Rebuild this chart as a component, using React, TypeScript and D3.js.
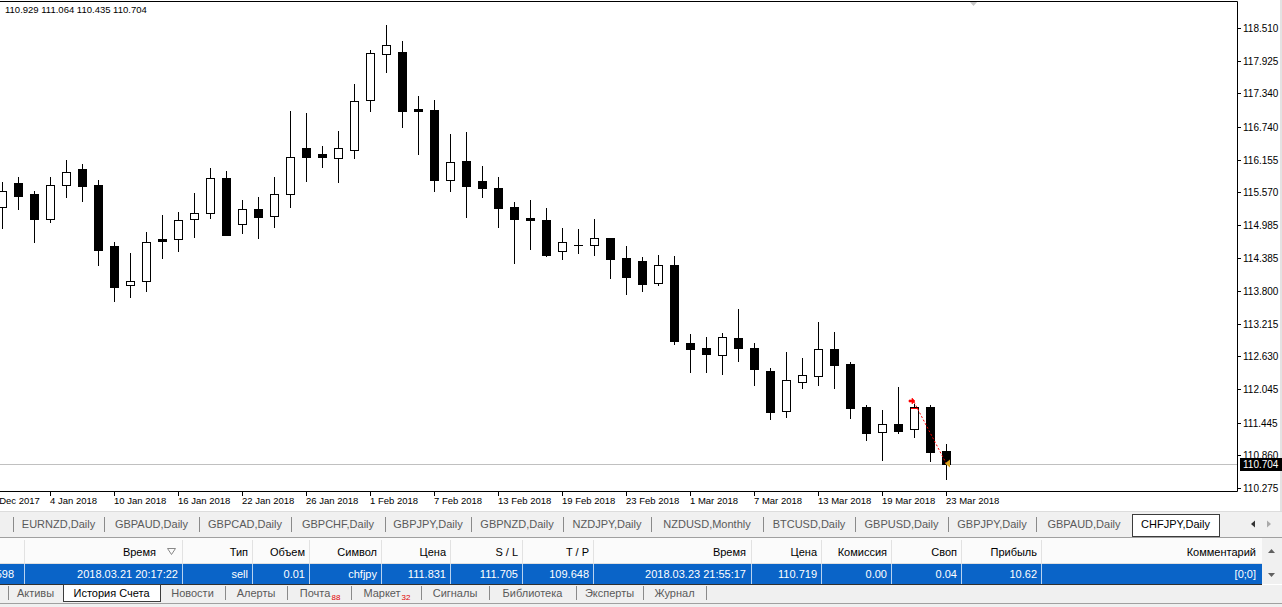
import React, { useEffect, useRef } from 'react';
import * as d3 from 'd3';

const width = 1282;
const height = 607;
const plot = { left: 0, right: 1237, top: 1, bottom: 491 };
const font = 'Liberation Sans, Arial, sans-serif';

// CHFJPY daily bars, 29 Dec 2017 .. 23 Mar 2018
const dates = [
  '2017.12.29', '2018.01.02', '2018.01.03', '2018.01.04', '2018.01.05', '2018.01.08', '2018.01.09', '2018.01.10',
  '2018.01.11', '2018.01.12', '2018.01.15', '2018.01.16', '2018.01.17', '2018.01.18', '2018.01.19', '2018.01.22',
  '2018.01.23', '2018.01.24', '2018.01.25', '2018.01.26', '2018.01.29', '2018.01.30', '2018.01.31', '2018.02.01',
  '2018.02.02', '2018.02.05', '2018.02.06', '2018.02.07', '2018.02.08', '2018.02.09', '2018.02.12', '2018.02.13',
  '2018.02.14', '2018.02.15', '2018.02.16', '2018.02.19', '2018.02.20', '2018.02.21', '2018.02.22', '2018.02.23',
  '2018.02.26', '2018.02.27', '2018.02.28', '2018.03.01', '2018.03.02', '2018.03.05', '2018.03.06', '2018.03.07',
  '2018.03.08', '2018.03.09', '2018.03.12', '2018.03.13', '2018.03.14', '2018.03.15', '2018.03.16', '2018.03.19',
  '2018.03.20', '2018.03.21', '2018.03.22', '2018.03.23',
];

const open = [
  115.300, 115.735, 115.538, 115.096, 115.694, 115.986, 115.700, 114.602, 113.904, 113.976,
  114.727, 114.727, 115.085, 115.193, 115.820, 114.996, 115.265, 115.140, 115.533, 116.362,
  116.255, 116.178, 116.320, 117.216, 118.040, 118.080, 117.055, 117.037, 115.784, 116.130,
  115.770, 115.646, 115.306, 115.105, 115.073, 114.513, 114.620, 114.620, 114.750, 114.393,
  114.340, 113.940, 114.268, 112.870, 112.780, 112.660, 112.960, 112.780, 112.370, 111.650,
  112.170, 112.280, 112.760, 112.495, 111.720, 111.270, 111.420, 111.330, 111.720, 110.929,
];
const high = [
  115.753, 115.840, 115.587, 115.840, 116.147, 116.076, 115.789, 114.674, 114.483, 114.858,
  115.163, 115.216, 115.562, 116.004, 115.950, 115.430, 115.479, 115.837, 117.020, 116.990,
  116.400, 116.666, 117.510, 118.116, 118.560, 118.280, 117.290, 117.220, 116.610, 116.650,
  116.040, 115.840, 115.395, 115.430, 115.288, 114.930, 114.912, 115.090, 114.750, 114.610,
  114.405, 114.447, 114.430, 113.030, 112.980, 113.050, 113.480, 112.870, 112.420, 112.710,
  112.600, 113.250, 113.070, 112.530, 111.760, 111.670, 112.090, 111.780, 111.760, 111.064,
];
const low = [
  114.935, 115.275, 114.685, 115.043, 115.490, 115.420, 114.267, 113.629, 113.700, 113.807,
  114.400, 114.524, 114.774, 115.114, 114.800, 114.846, 114.756, 114.953, 115.310, 115.777,
  116.016, 115.759, 116.190, 117.030, 117.730, 116.740, 116.260, 115.600, 115.600, 115.130,
  115.490, 114.953, 114.310, 114.560, 114.435, 114.380, 114.488, 114.450, 114.040, 113.754,
  113.800, 113.910, 112.853, 112.350, 112.350, 112.320, 112.550, 112.120, 111.510, 111.550,
  112.070, 112.120, 112.070, 111.530, 111.135, 110.780, 111.255, 111.190, 110.765, 110.435,
];
const close = [
  115.587, 115.508, 115.096, 115.694, 115.927, 115.687, 114.541, 113.868, 113.976, 114.674,
  114.703, 115.068, 115.193, 115.820, 114.810, 115.265, 115.132, 115.533, 116.195, 116.206,
  116.195, 116.357, 117.198, 118.057, 118.200, 117.030, 117.030, 115.784, 116.110, 115.690,
  115.640, 115.283, 115.096, 115.070, 114.447, 114.674, 114.620, 114.746, 114.380, 114.058,
  113.933, 114.268, 112.907, 112.760, 112.670, 112.980, 112.780, 112.410, 111.640, 112.210,
  112.300, 112.760, 112.480, 111.710, 111.255, 111.420, 111.300, 111.720, 110.915, 110.704,
];

// time scale labels, one every 4 bars; the first belongs to the bar before 29 Dec
const dateLabels = [
  '28 Dec 2017', '4 Jan 2018', '10 Jan 2018', '16 Jan 2018', '22 Jan 2018', '26 Jan 2018', '1 Feb 2018', '7 Feb 2018',
  '13 Feb 2018', '19 Feb 2018', '23 Feb 2018', '1 Mar 2018', '7 Mar 2018', '13 Mar 2018', '19 Mar 2018', '23 Mar 2018',
];

const priceTicks = [
  118.51, 117.925, 117.34, 116.74, 116.155, 115.57, 114.985, 114.385,
  113.8, 113.215, 112.63, 112.045, 111.445, 110.86, 110.275,
];

// closed order shown in account history
const orderCols = ['', 'Время', 'Тип', 'Объем', 'Символ', 'Цена', 'S / L', 'T / P', 'Время', 'Цена', 'Комиссия', 'Своп', 'Прибыль', 'Комментарий'];
const orderRow = ['598', '2018.03.21 20:17:22', 'sell', '0.01', 'chfjpy', '111.831', '111.705', '109.648', '2018.03.23 21:55:17', '110.719', '0.00', '0.04', '10.62', '[0;0]'];
const colRight = [14, 178, 248, 305, 377, 446, 518, 589, 746, 817, 887, 957, 1037, 1256];
const colSep = [24, 182, 252, 309, 381, 450, 522, 593, 751, 821, 891, 961, 1041];

const chartTabs = ['EURNZD,Daily', 'GBPAUD,Daily', 'GBPCAD,Daily', 'GBPCHF,Daily', 'GBPJPY,Daily', 'GBPNZD,Daily', 'NZDJPY,Daily', 'NZDUSD,Monthly', 'BTCUSD,Daily', 'GBPUSD,Daily', 'GBPJPY,Daily', 'GBPAUD,Daily', 'CHFJPY,Daily'];
const chartTabSep = [13, 104, 199, 291, 385, 471, 563, 651, 763, 855, 948, 1036, 1132, 1219];

const termTabs = ['Активы', 'История Счета', 'Новости', 'Алерты', 'Почта', 'Маркет', 'Сигналы', 'Библиотека', 'Эксперты', 'Журнал'];
const termBadges = ['', '', '', '', '88', '32', '', '', '', ''];
const termTabSep = [8, 63, 160, 225, 287, 351, 421, 489, 576, 643, 706];

export default function App() {
  const ref = useRef<SVGSVGElement>(null);

  useEffect(() => {
    const svg = d3.select(ref.current);
    svg.selectAll('*').remove();

    const x = d3.scaleLinear().domain([0, dates.length - 1]).range([2, 946]);
    const y = d3.scaleLinear().domain([110.275, 118.51]).range([488, 28]);
    const px = (i: number) => Math.round(x(i));
    const py = (v: number) => Math.round(y(v));

    svg.append('rect').attr('width', width).attr('height', height).attr('fill', '#fff');
    svg.append('rect').attr('x', 1280).attr('width', 2).attr('height', 511).attr('fill', '#e3e3e3');

    svg.append('clipPath').attr('id', 'plot-clip')
      .append('rect').attr('x', plot.left).attr('y', plot.top)
      .attr('width', plot.right - plot.left).attr('height', plot.bottom - plot.top);

    const chart = svg.append('g').attr('clip-path', 'url(#plot-clip)');

    // bid line
    const last = close[close.length - 1];
    chart.append('line')
      .attr('x1', plot.left).attr('x2', plot.right)
      .attr('y1', py(last) + 0.5).attr('y2', py(last) + 0.5)
      .attr('stroke', '#c0c0c0');

    const bars = dates.map((d, i) => ({ d, i, o: open[i], h: high[i], l: low[i], c: close[i] }));

    chart.selectAll('line.wick')
      .data(bars)
      .join('line')
      .attr('class', 'wick')
      .attr('x1', d => px(d.i) + 0.5).attr('x2', d => px(d.i) + 0.5)
      .attr('y1', d => py(d.h)).attr('y2', d => py(d.l) + 1)
      .attr('stroke', '#000');

    chart.selectAll('rect.body')
      .data(bars.filter(d => py(Math.min(d.o, d.c)) - py(Math.max(d.o, d.c)) > 0))
      .join('rect')
      .attr('class', 'body')
      .attr('x', d => px(d.i) - 3.5)
      .attr('y', d => py(Math.max(d.o, d.c)) + 0.5)
      .attr('width', 8)
      .attr('height', d => py(Math.min(d.o, d.c)) - py(Math.max(d.o, d.c)))
      .attr('fill', d => (d.c > d.o ? '#fff' : '#000'))
      .attr('stroke', '#000');

    chart.selectAll('line.doji')
      .data(bars.filter(d => py(Math.min(d.o, d.c)) - py(Math.max(d.o, d.c)) <= 0))
      .join('line')
      .attr('class', 'doji')
      .attr('x1', d => px(d.i) - 4).attr('x2', d => px(d.i) + 5)
      .attr('y1', d => py(d.c) + 0.5).attr('y2', d => py(d.c) + 0.5)
      .attr('stroke', '#000');

    // trade: sell opened 21 Mar, closed 23 Mar
    const oi = dates.indexOf(orderRow[1].slice(0, 10));
    const ci = dates.indexOf(orderRow[8].slice(0, 10));
    const oPrice = +orderRow[5];
    const cPrice = +orderRow[9];
    const sl = +orderRow[6];
    chart.append('line')
      .attr('x1', px(oi)).attr('y1', py(oPrice) + 1)
      .attr('x2', px(ci)).attr('y2', py(cPrice))
      .attr('stroke', '#ff0000').attr('stroke-dasharray', '2,2');
    chart.append('line')
      .attr('x1', px(oi) - 3).attr('x2', px(oi) + 4)
      .attr('y1', py(sl) + 0.5).attr('y2', py(sl) + 0.5)
      .attr('stroke', '#ff0000');
    const ax = px(oi) - 5;
    const ay = py(oPrice);
    chart.append('path')
      .attr('d', `M${ax},${ay - 1}h3v-2l3,3l-3,3v-2h-3z`)
      .attr('fill', '#ff0000').attr('stroke', '#ff0000').attr('stroke-width', 0.6);
    const bx = px(ci) - 1;
    const by = py(cPrice) + 0.5;
    chart.append('path')
      .attr('d', `M${bx},${by}l5,-4v8z`)
      .attr('fill', '#daa520');

    // chart shift marker
    svg.append('path').attr('d', 'M969,1h9l-4.5,5z').attr('fill', '#c8c8c8');

    // frame
    svg.append('path')
      .attr('d', `M${plot.left},${plot.top + 0.5}H${plot.right + 0.5}V${plot.bottom + 0.5}H${plot.left}`)
      .attr('fill', 'none').attr('stroke', '#000');

    // price scale
    const yAx = svg.append('g');
    yAx.selectAll('line')
      .data(priceTicks)
      .join('line')
      .attr('x1', plot.right + 1).attr('x2', plot.right + 4)
      .attr('y1', d => py(d) + 0.5).attr('y2', d => py(d) + 0.5)
      .attr('stroke', '#000');
    yAx.selectAll('text')
      .data(priceTicks)
      .join('text')
      .attr('x', plot.right + 6)
      .attr('y', d => py(d) + 4)
      .attr('font-family', font).attr('font-size', 10)
      .attr('fill', '#000')
      .text(d => d.toFixed(3));

    svg.append('rect')
      .attr('x', plot.right + 3).attr('y', py(last) - 6)
      .attr('width', width - plot.right - 3).attr('height', 13)
      .attr('fill', '#000');
    svg.append('text')
      .attr('x', plot.right + 6).attr('y', py(last) + 4)
      .attr('font-family', font).attr('font-size', 10)
      .attr('fill', '#fff')
      .text(last.toFixed(3));

    // time scale
    const xAx = svg.append('g');
    const tickIdx = dateLabels.map((_, k) => k * 4 - 1);
    xAx.selectAll('line')
      .data(tickIdx)
      .join('line')
      .attr('x1', d => px(d) + 0.5).attr('x2', d => px(d) + 0.5)
      .attr('y1', plot.bottom + 1).attr('y2', plot.bottom + 5)
      .attr('stroke', '#000');
    xAx.selectAll('text')
      .data(dateLabels)
      .join('text')
      .attr('x', (d, k) => px(tickIdx[k]))
      .attr('y', plot.bottom + 13)
      .attr('font-family', font).attr('font-size', 9.5)
      .attr('fill', '#000')
      .text(d => d);

    // OHLC of the current bar
    const n = dates.length - 1;
    svg.append('text')
      .attr('x', 5).attr('y', 13)
      .attr('font-family', font).attr('font-size', 9.5)
      .attr('fill', '#000')
      .text([open[n], high[n], low[n], close[n]].map(v => v.toFixed(3)).join(' '));

    // chart tabs
    const tabs = svg.append('g').attr('font-family', font).attr('font-size', 11);
    tabs.append('rect').attr('y', 511).attr('width', width).attr('height', 28).attr('fill', '#f0f0f0');
    tabs.append('line').attr('x1', 0).attr('x2', width).attr('y1', 511.5).attr('y2', 511.5).attr('stroke', '#dcdcdc');
    const act = chartTabs.length - 1;
    tabs.append('rect')
      .attr('x', chartTabSep[act] + 0.5).attr('y', 514.5)
      .attr('width', chartTabSep[act + 1] - chartTabSep[act]).attr('height', 22)
      .attr('fill', '#fff').attr('stroke', '#3c3c3c');
    tabs.selectAll('line.sep')
      .data(chartTabSep.slice(0, act))
      .join('line')
      .attr('class', 'sep')
      .attr('x1', d => d + 0.5).attr('x2', d => d + 0.5)
      .attr('y1', 517).attr('y2', 532)
      .attr('stroke', '#8a8a8a');
    tabs.selectAll('text.tab')
      .data(chartTabs)
      .join('text')
      .attr('class', 'tab')
      .attr('x', (d, k) => (chartTabSep[k] + chartTabSep[k + 1]) / 2)
      .attr('y', 528)
      .attr('text-anchor', 'middle')
      .attr('fill', (d, k) => (k === act ? '#000' : '#5a5a5a'))
      .text(d => d);
    tabs.append('path').attr('d', 'M1251,524l4,-3.5v7z').attr('fill', '#333');
    tabs.append('path').attr('d', 'M1271,524l-4,-3.5v7z').attr('fill', '#aaa');
    tabs.append('line').attr('x1', 0).attr('x2', width).attr('y1', 537.5).attr('y2', 537.5).attr('stroke', '#a0a0a0');

    // order table
    const tbl = svg.append('g').attr('font-family', font).attr('font-size', 11);
    tbl.append('rect').attr('y', 538).attr('width', width).attr('height', 26).attr('fill', '#fbfbfb');
    tbl.append('line').attr('x1', 0).attr('x2', width).attr('y1', 563.5).attr('y2', 563.5).attr('stroke', '#e0e0e0');
    tbl.append('rect').attr('y', 564).attr('width', 1262).attr('height', 20).attr('fill', '#0a64c8');
    tbl.selectAll('line.hsep')
      .data(colSep)
      .join('line')
      .attr('class', 'hsep')
      .attr('x1', d => d + 0.5).attr('x2', d => d + 0.5)
      .attr('y1', 540).attr('y2', 563)
      .attr('stroke', '#e2e2e2');
    tbl.selectAll('line.rsep')
      .data(colSep)
      .join('line')
      .attr('class', 'rsep')
      .attr('x1', d => d + 0.5).attr('x2', d => d + 0.5)
      .attr('y1', 564).attr('y2', 584)
      .attr('stroke', '#b9d3f0');
    tbl.selectAll('text.head')
      .data(orderCols)
      .join('text')
      .attr('class', 'head')
      .attr('x', (d, k) => (k === 1 ? 156 : colRight[k]))
      .attr('y', 556)
      .attr('text-anchor', 'end')
      .attr('fill', '#000')
      .text(d => d);
    tbl.append('path').attr('d', 'M167.5,548.5h8l-4,6z').attr('fill', 'none').attr('stroke', '#888');
    tbl.selectAll('text.cell')
      .data(orderRow)
      .join('text')
      .attr('class', 'cell')
      .attr('x', (d, k) => colRight[k])
      .attr('y', 578)
      .attr('text-anchor', 'end')
      .attr('fill', '#fff')
      .text(d => d);
    tbl.append('rect').attr('x', 1262).attr('y', 538).attr('width', 20).attr('height', 46).attr('fill', '#f0f0f0');
    tbl.append('path').attr('d', 'M1268,553l3.5,-4l3.5,4z').attr('fill', '#606060');
    tbl.append('path').attr('d', 'M1268,573l3.5,4l3.5,-4z').attr('fill', '#606060');
    tbl.append('line').attr('x1', 0).attr('x2', 1262).attr('y1', 584.5).attr('y2', 584.5).attr('stroke', '#303030');

    // terminal tabs
    const term = svg.append('g').attr('font-family', font).attr('font-size', 11);
    term.append('rect').attr('y', 585).attr('width', width).attr('height', 22).attr('fill', '#f0f0f0');
    term.append('rect')
      .attr('x', termTabSep[1] + 0.5).attr('y', 584.5)
      .attr('width', termTabSep[2] - termTabSep[1]).attr('height', 17)
      .attr('fill', '#fff').attr('stroke', '#3c3c3c');
    term.selectAll('line.sep')
      .data(termTabSep.filter((d, k) => k !== 1 && k !== 2))
      .join('line')
      .attr('class', 'sep')
      .attr('x1', d => d + 0.5).attr('x2', d => d + 0.5)
      .attr('y1', 586).attr('y2', 600)
      .attr('stroke', '#8a8a8a');
    term.selectAll('text.tab')
      .data(termTabs)
      .join('text')
      .attr('class', 'tab')
      .attr('x', (d, k) => (termTabSep[k] + termTabSep[k + 1]) / 2 - (termBadges[k] ? 4 : 0))
      .attr('y', 597)
      .attr('text-anchor', 'middle')
      .attr('fill', (d, k) => (k === 1 ? '#000' : '#5a5a5a'))
      .text(d => d);
    term.selectAll('text.badge')
      .data(termTabs.map((d, k) => k).filter(k => termBadges[k]))
      .join('text')
      .attr('class', 'badge')
      .attr('x', k => (termTabSep[k] + termTabSep[k + 1]) / 2 - 4 + ((termTabs[k].length * 6.2) / 2) + 1)
      .attr('y', 600)
      .attr('font-size', 8)
      .attr('fill', '#e00000')
      .text(k => termBadges[k]);
    term.append('line').attr('x1', 0).attr('x2', width).attr('y1', 603.5).attr('y2', 603.5).attr('stroke', '#a0a0a0');
  }, []);

  return (
    <svg
      ref={ref}
      width={width}
      height={height}
      style={{ position: 'fixed', left: 0, top: 0, display: 'block' }}
    />
  );
}
